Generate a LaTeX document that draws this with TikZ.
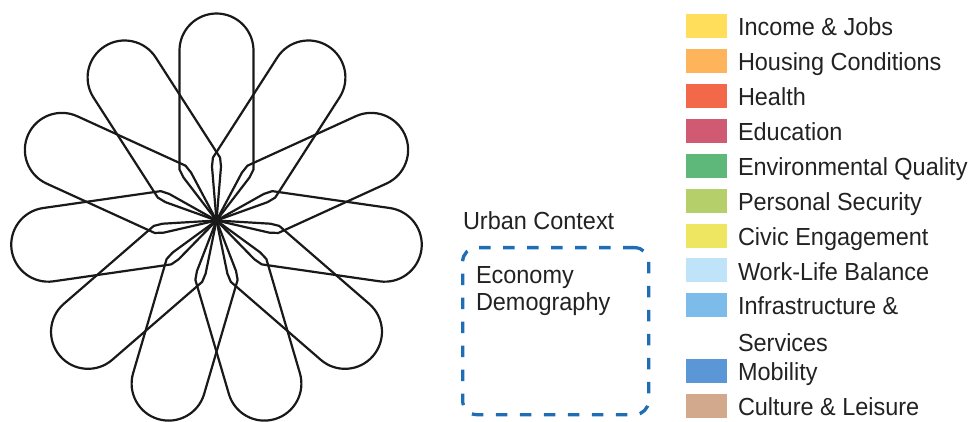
\documentclass[tikz,border=0pt]{standalone}
\usepackage{fontspec}
\setmainfont{Liberation Sans}[FakeStretch=0.95]
\definecolor{txt}{HTML}{222222}
\definecolor{ctxblue}{HTML}{1F6EB5}
\definecolor{cIncome}{HTML}{FEDE5A}
\definecolor{cHousing}{HTML}{FDB45B}
\definecolor{cHealth}{HTML}{F26849}
\definecolor{cEducation}{HTML}{CF5A72}
\definecolor{cEnv}{HTML}{5DB87A}
\definecolor{cSecurity}{HTML}{B5D06A}
\definecolor{cCivic}{HTML}{EEE560}
\definecolor{cWork}{HTML}{BFE3F8}
\definecolor{cInfra}{HTML}{7DBBEA}
\definecolor{cMobility}{HTML}{5B96D6}
\definecolor{cCulture}{HTML}{D2A98C}
\begin{document}
\begin{tikzpicture}[x=1pt,y=-1pt,
  petal/.style={draw=black!90, line width=2.2pt, line join=round},
  swatch/.style={minimum width=41pt, minimum height=24pt, inner sep=0pt, outer sep=0pt, draw=none},
  lbl/.style={anchor=base west, inner sep=0pt, outer sep=0pt, text=txt, font=\fontsize{24.7}{28}\selectfont},
  ctxbox/.style={draw=ctxblue, line width=3.3pt, dash pattern=on 11.5pt off 12.5pt, rounded corners=14pt, inner sep=0pt}]
\useasboundingbox (0,0) rectangle (970,422);
% flower
\coordinate (fc) at (216.5,220.5);
\foreach \k in {0,...,10}{
  \draw[petal, shift={(fc)}, rotate=90+\k*32.72727]
    (0,0) -- (43,33) -- (51,37) -- (170,37)
    arc[start angle=90, end angle=-90, radius=37]
    -- (51,-37) -- (43,-33) -- cycle;
}
% urban context
\node[lbl] (uc) at (463,230) {Urban Context};
\node[ctxbox, anchor=north west, minimum width=186pt, minimum height=167pt] (ctx) at (461,246) {};
\node[lbl] (eco) at (476,283.3) {Economy};
\node[lbl] (dem) at (476,311) {Demography};
% legend
\foreach \c/\t/\y [count=\i] in {
  cIncome/{Income \& Jobs}/26.3,
  cHousing/{Housing Conditions}/61.3,
  cHealth/{Health}/96.3,
  cEducation/{Education}/131.2,
  cEnv/{Environmental Quality}/166.2,
  cSecurity/{Personal Security}/201.1,
  cCivic/{Civic Engagement}/235.8,
  cWork/{Work-Life Balance}/270.5,
  cInfra/{Infrastructure \&}/305.2,
  cMobility/{Mobility}/371.2,
  cCulture/{Culture \& Leisure}/406}{
  \node[swatch, fill=\c] (sw\i) at (706.5,\y) {};
  \node[lbl] (lb\i) at (738,\y+9.7) {\t};
}
\node[lbl] (lbs) at (738,351.5) {Services};
\end{tikzpicture}
\end{document}
